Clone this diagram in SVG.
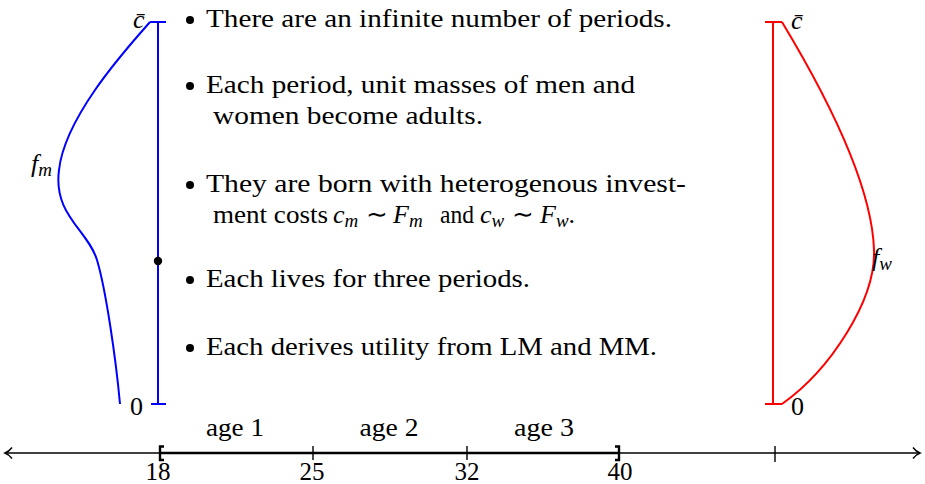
<svg xmlns="http://www.w3.org/2000/svg" width="925" height="484" viewBox="0 0 925 484">
<style>
text{font-family:"Liberation Serif","Times New Roman",serif;font-size:26px;fill:#000}
.it{font-style:italic}
.sub{font-size:19px;font-style:italic}
.num{font-size:25px}
.blue{stroke:#0000ff;stroke-width:2;fill:none}
.red{stroke:#ff0000;stroke-width:2;fill:none}
.ax{stroke:#000;stroke-width:1.4;fill:none}
</style>
<rect width="925" height="484" fill="#fff"/>
<g id="men">
<path class="blue" d="M150,22 H166 M158,22 V404 M151,404 H166"/>
<path class="blue" d="M150,22 C130,45 65,115 59,170 C53,215 88,230 97,260 C106,290 116,360 120,404"/>
<circle cx="158" cy="261" r="4.2" fill="#000"/>
<text class="it" x="133" y="28">c̄</text>
<text x="130" y="415">0</text>
<text class="it" x="31" y="172">f<tspan class="sub" dy="4">m</tspan></text>
</g>
<g id="women">
<path class="red" d="M765,22 H782 M773,22 V404 M765,404 H782"/>
<path class="red" d="M782,22 C820,85 872,180 874,250 C876,300 830,370 782,404"/>
<text class="it" x="791" y="29">c̄</text>
<text x="791" y="415">0</text>
<text class="it" x="872" y="266">f<tspan class="sub" dy="4">w</tspan></text>
</g>
<g id="bullets">
<circle cx="190" cy="20" r="4"/>
<text x="206" y="27" textLength="466" lengthAdjust="spacingAndGlyphs">There are an infinite number of periods.</text>
<circle cx="190" cy="86" r="4"/>
<text x="206" y="93" textLength="429" lengthAdjust="spacingAndGlyphs">Each period, unit masses of men and</text>
<text x="213" y="124" textLength="270" lengthAdjust="spacingAndGlyphs">women become adults.</text>
<circle cx="190" cy="185" r="4"/>
<text x="206" y="192" textLength="480" lengthAdjust="spacingAndGlyphs">They are born with heterogenous invest-</text>
<text x="213" y="223" textLength="115" lengthAdjust="spacingAndGlyphs">ment costs</text>
<text class="it" x="333" y="223">c<tspan class="sub" dy="4">m</tspan></text>
<text x="366" y="223">∼</text>
<text class="it" x="393" y="223">F<tspan class="sub" dy="4">m</tspan></text>
<text x="440" y="223" textLength="34" lengthAdjust="spacingAndGlyphs">and</text>
<text class="it" x="480" y="223">c<tspan class="sub" dy="4">w</tspan></text>
<text x="512" y="223">∼</text>
<text class="it" x="540" y="223">F<tspan class="sub" dy="4">w</tspan><tspan dy="-4" style="font-style:normal">.</tspan></text>
<circle cx="190" cy="280" r="4"/>
<text x="206" y="287" textLength="324" lengthAdjust="spacingAndGlyphs">Each lives for three periods.</text>
<circle cx="190" cy="348" r="4"/>
<text x="206" y="355" textLength="451" lengthAdjust="spacingAndGlyphs">Each derives utility from LM and MM.</text>
</g>
<g id="axis">
<path class="ax" d="M5,453 H920"/>
<path stroke="#000" stroke-width="2.6" d="M160,453 H619"/>
<path class="ax" d="M12,447.5 Q9,451.5 5,453 Q9,454.5 12,458.5"/>
<path class="ax" d="M913,447.5 Q916,451.5 920,453 Q916,454.5 913,458.5"/>
<path stroke="#000" stroke-width="2.4" fill="none" d="M164,446.5 H160 V460 H164"/>
<path stroke="#000" stroke-width="2.4" fill="none" d="M615,446.5 H619 V460 H615"/>
<path class="ax" d="M313,446 V460 M467,446 V460 M775,446 V462"/>
<text class="num" x="158" y="480" text-anchor="middle">18</text>
<text class="num" x="312" y="480" text-anchor="middle">25</text>
<text class="num" x="467" y="480" text-anchor="middle">32</text>
<text class="num" x="620" y="480" text-anchor="middle">40</text>
<text x="235" y="436" text-anchor="middle" textLength="58" lengthAdjust="spacingAndGlyphs">age 1</text>
<text x="389" y="436" text-anchor="middle" textLength="59" lengthAdjust="spacingAndGlyphs">age 2</text>
<text x="544" y="436" text-anchor="middle" textLength="60" lengthAdjust="spacingAndGlyphs">age 3</text>
</g>
</svg>
